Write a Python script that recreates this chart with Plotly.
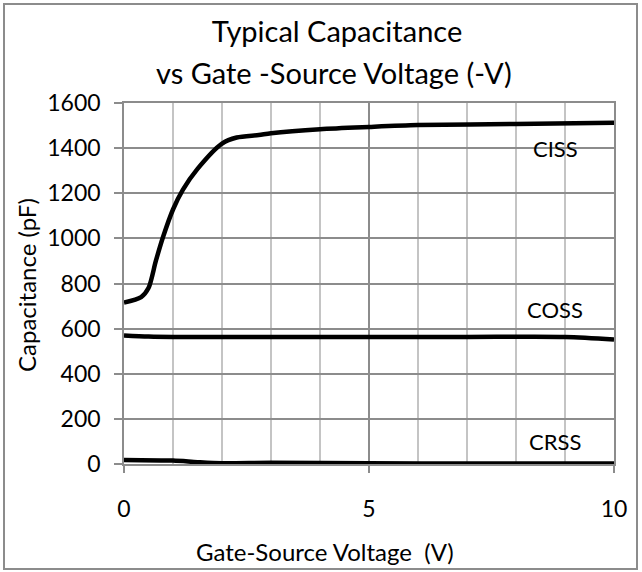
import plotly.graph_objects as go

# Data
ciss_x = [0, 0.35, 0.5, 0.65, 0.8, 1.0, 1.2, 1.5, 2.0, 2.3, 2.75, 3.0, 4.0, 5.0, 6.0, 8.0, 10.0]
ciss_y = [716, 740, 780, 900, 1008, 1128, 1215, 1308, 1420, 1447, 1458, 1466, 1484, 1494, 1502, 1507, 1512]

coss_x = [0, 0.5, 1, 3, 5, 7, 9, 10]
coss_y = [570, 565, 563, 563, 563, 563, 563, 552]

crss_x = [0, 1, 1.5, 2, 3, 5, 7, 10]
crss_y = [18, 15, 8, 3, 5, 3, 2, 2]

label_names = ["CISS", "COSS", "CRSS"]
label_x = [8.8, 8.8, 8.8]
label_y = [1400, 683, 100]

FONT = "Lato"
W, H = 642, 572
L, R, T, B = 124, 614, 103, 464  # plot area in pixels
PW, PH = R - L, B - T


def px(xp):
    return (xp - L) / PW


def py(yp):
    return (B - yp) / PH


fig = go.Figure()
for xs, ys in [(ciss_x, ciss_y), (coss_x, coss_y), (crss_x, crss_y)]:
    fig.add_trace(go.Scatter(x=xs, y=ys, mode="lines",
                             line=dict(color="black", width=4.5, shape="spline", smoothing=0.8),
                             showlegend=False, hoverinfo="skip"))

for n, lx, ly in zip(label_names, label_x, label_y):
    fig.add_annotation(x=lx, y=ly, text=n, showarrow=False,
                       font=dict(family=FONT, size=22, color="black"))

fig.update_layout(
    width=W, height=H,
    margin=dict(l=L, r=W - R, t=T, b=H - B),
    paper_bgcolor="white", plot_bgcolor="white",
    font=dict(family=FONT, color="black"),
    title=dict(text="Typical Capacitance",
               x=337 / W, xanchor="center", xref="container",
               y=1 - 32 / H, yanchor="middle",
               font=dict(family=FONT, size=29, color="black")),
    xaxis=dict(range=[0, 10], dtick=5, tick0=0,
               showgrid=True, gridcolor="#8c8c8c", gridwidth=1.5,
               minor=dict(dtick=1, showgrid=True, gridcolor="#c4c4c4", gridwidth=1.5),
               showline=True, linecolor="#8c8c8c", linewidth=1.5, mirror=True,
               ticks="outside", ticklen=7, tickcolor="#8c8c8c", tickwidth=1.5,
               ticklabelstandoff=17,
               tickfont=dict(family=FONT, size=23),
               zeroline=False),
    yaxis=dict(range=[0, 1600], dtick=200,
               showgrid=True, gridcolor="#8c8c8c", gridwidth=1.5,
               showline=True, linecolor="#8c8c8c", linewidth=1.5, mirror=True,
               ticks="outside", ticklen=8, tickcolor="#8c8c8c", tickwidth=1.5,
               ticklabelstandoff=9,
               tickfont=dict(family=FONT, size=23),
               zeroline=False),
)

# second title line
fig.add_annotation(xref="paper", yref="paper", x=px(334), y=py(73),
                   xanchor="center", yanchor="middle", showarrow=False,
                   text="vs Gate -Source Voltage (-V)",
                   font=dict(family=FONT, size=29, color="black"))

# axis titles
fig.add_annotation(xref="paper", yref="paper", x=px(325), y=py(551),
                   xanchor="center", yanchor="middle", showarrow=False,
                   text="Gate-Source Voltage  (V)",
                   font=dict(family=FONT, size=24, color="black"))
fig.add_annotation(xref="paper", yref="paper", x=px(26), y=py(285),
                   xanchor="center", yanchor="middle", showarrow=False,
                   textangle=-90, text="Capacitance (pF)",
                   font=dict(family=FONT, size=24, color="black"))

# outer chart border
fig.add_shape(type="rect", xref="paper", yref="paper",
              x0=px(4), x1=px(637), y0=py(569), y1=py(4),
              line=dict(color="#8c8c8c", width=2), layer="below")

fig.write_html("out.html", config={"displayModeBar": False},
               post_script="document.body.style.margin='0';document.body.style.overflow='hidden';")
